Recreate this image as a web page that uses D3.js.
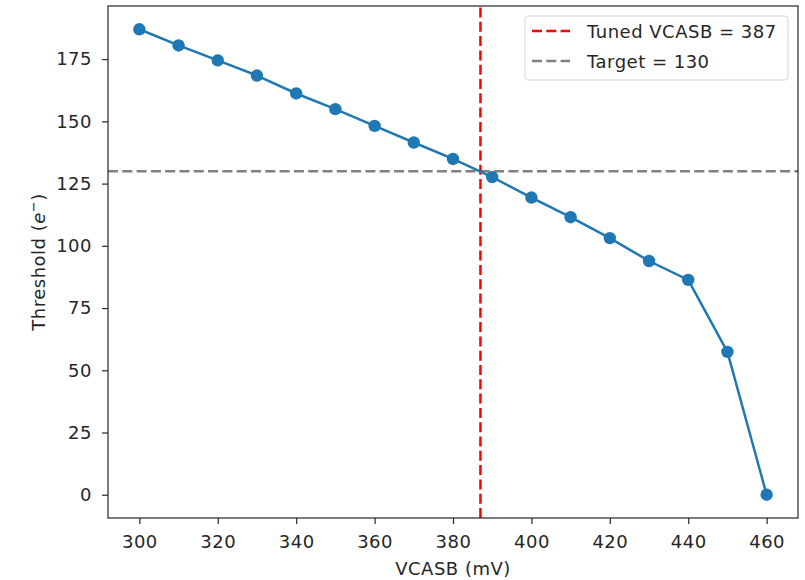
<!DOCTYPE html>
<html>
<head>
<meta charset="utf-8">
<script src="https://cdn.jsdelivr.net/npm/d3@7"></script>
<style>
  body { margin: 0; background: #fff; }
  text { font-family: "DejaVu Sans", sans-serif; fill: #262626; letter-spacing: 0.5px; }
</style>
</head>
<body>
<div id="chart"></div>
<script>
// VCASB scan
const vcasb = [300, 310, 320, 330, 340, 350, 360, 370, 380, 390, 400, 410, 420, 430, 440, 450, 460];
const threshold = [187, 180.5, 174.5, 168.4, 161.2, 154.9, 148.2, 141.5, 134.9, 127.6, 119.4, 111.5, 103.1, 93.9, 86.3, 57.4, 0];
const xTicks = [300, 320, 340, 360, 380, 400, 420, 440, 460];
const yTicks = [0, 25, 50, 75, 100, 125, 150, 175];
const tunedVcasb = 387;
const target = 130;

const width = 805, height = 580;
const margin = { top: 6, right: 7, bottom: 62, left: 108 };
const fontSize = 18;
const dash = "10,4.3";

const svg = d3.select("#chart").append("svg")
  .attr("width", width)
  .attr("height", height);

// matplotlib style 5% padding
let xPad = (d3.max(vcasb) - d3.min(vcasb)) * 0.05;
let yPad = (d3.max(threshold) - d3.min(threshold)) * 0.05;

const x = d3.scaleLinear()
  .domain([d3.min(vcasb) - xPad, d3.max(vcasb) + xPad])
  .range([margin.left, width - margin.right]);

const y = d3.scaleLinear()
  .domain([d3.min(threshold) - yPad, d3.max(threshold) + yPad])
  .range([height - margin.bottom, margin.top]);

const plot = svg.append("g");

// reference lines
plot.append("line")
  .attr("x1", x.range()[0]).attr("x2", x.range()[1])
  .attr("y1", y(target)).attr("y2", y(target))
  .attr("stroke", "#808080")
  .attr("stroke-width", 2.5)
  .attr("stroke-dasharray", dash);

plot.append("line")
  .attr("x1", x(tunedVcasb)).attr("x2", x(tunedVcasb))
  .attr("y1", y.range()[0]).attr("y2", y.range()[1])
  .attr("stroke", "#ff0000")
  .attr("stroke-width", 2.5)
  .attr("stroke-dasharray", dash);

// data line + markers
const line = d3.line()
  .x((d, i) => x(vcasb[i]))
  .y(d => y(d));

plot.append("path")
  .datum(threshold)
  .attr("fill", "none")
  .attr("stroke", "#1f77b4")
  .attr("stroke-width", 2.5)
  .attr("d", line);

plot.selectAll("circle.pt")
  .data(threshold)
  .enter()
  .append("circle")
  .attr("class", "pt")
  .attr("cx", (d, i) => x(vcasb[i]))
  .attr("cy", d => y(d))
  .attr("r", 6.2)
  .attr("fill", "#1f77b4");

// axes
const xAxis = svg.append("g")
  .attr("transform", "translate(0," + (height - margin.bottom) + ")")
  .call(d3.axisBottom(x).tickValues(xTicks).tickSize(6).tickPadding(11));

const yAxis = svg.append("g")
  .attr("transform", "translate(" + margin.left + ",0)")
  .call(d3.axisLeft(y).tickValues(yTicks).tickSize(6).tickPadding(10));

[xAxis, yAxis].forEach(function(ax) {
  ax.select(".domain").remove();
  ax.selectAll("line").attr("stroke", "#262626").attr("stroke-width", 1.2);
  ax.selectAll("text")
    .style("font-family", "DejaVu Sans, sans-serif")
    .style("font-size", fontSize + "px")
    .attr("fill", "#262626");
});

// frame
svg.append("rect")
  .attr("x", margin.left)
  .attr("y", margin.top)
  .attr("width", width - margin.left - margin.right)
  .attr("height", height - margin.top - margin.bottom)
  .attr("fill", "none")
  .attr("stroke", "#262626")
  .attr("stroke-width", 1.2);

// axis labels
svg.append("text")
  .attr("x", (margin.left + width - margin.right) / 2)
  .attr("y", 575)
  .attr("text-anchor", "middle")
  .style("font-size", fontSize + "px")
  .text("VCASB (mV)");

let ylab = svg.append("text")
  .attr("transform", "translate(45," + ((margin.top + height - margin.bottom) / 2) + ") rotate(-90)")
  .attr("text-anchor", "middle")
  .style("font-size", fontSize + "px");
ylab.append("tspan").text("Threshold (");
ylab.append("tspan").style("font-style", "italic").text("e");
ylab.append("tspan").attr("dy", -7).style("font-size", "13px").text("\u2212");
ylab.append("tspan").attr("dy", 7).text(")");

// legend
const legend = svg.append("g").attr("transform", "translate(525,16)");
legend.append("rect")
  .attr("width", 263)
  .attr("height", 64)
  .attr("rx", 3)
  .attr("fill", "#fff")
  .attr("fill-opacity", 0.8)
  .attr("stroke", "#d6d6d6");

const legendItems = [
  { label: "Tuned VCASB = " + tunedVcasb, color: "#ff0000" },
  { label: "Target = " + target, color: "#808080" }
];

legendItems.forEach(function(item, i) {
  let ly = 15 + i * 30;
  legend.append("line")
    .attr("x1", 7).attr("x2", 45)
    .attr("y1", ly).attr("y2", ly)
    .attr("stroke", item.color)
    .attr("stroke-width", 2.5)
    .attr("stroke-dasharray", dash);
  legend.append("text")
    .attr("x", 62)
    .attr("y", ly + 7)
    .style("font-size", fontSize + "px")
    .text(item.label);
});
</script>
</body>
</html>
